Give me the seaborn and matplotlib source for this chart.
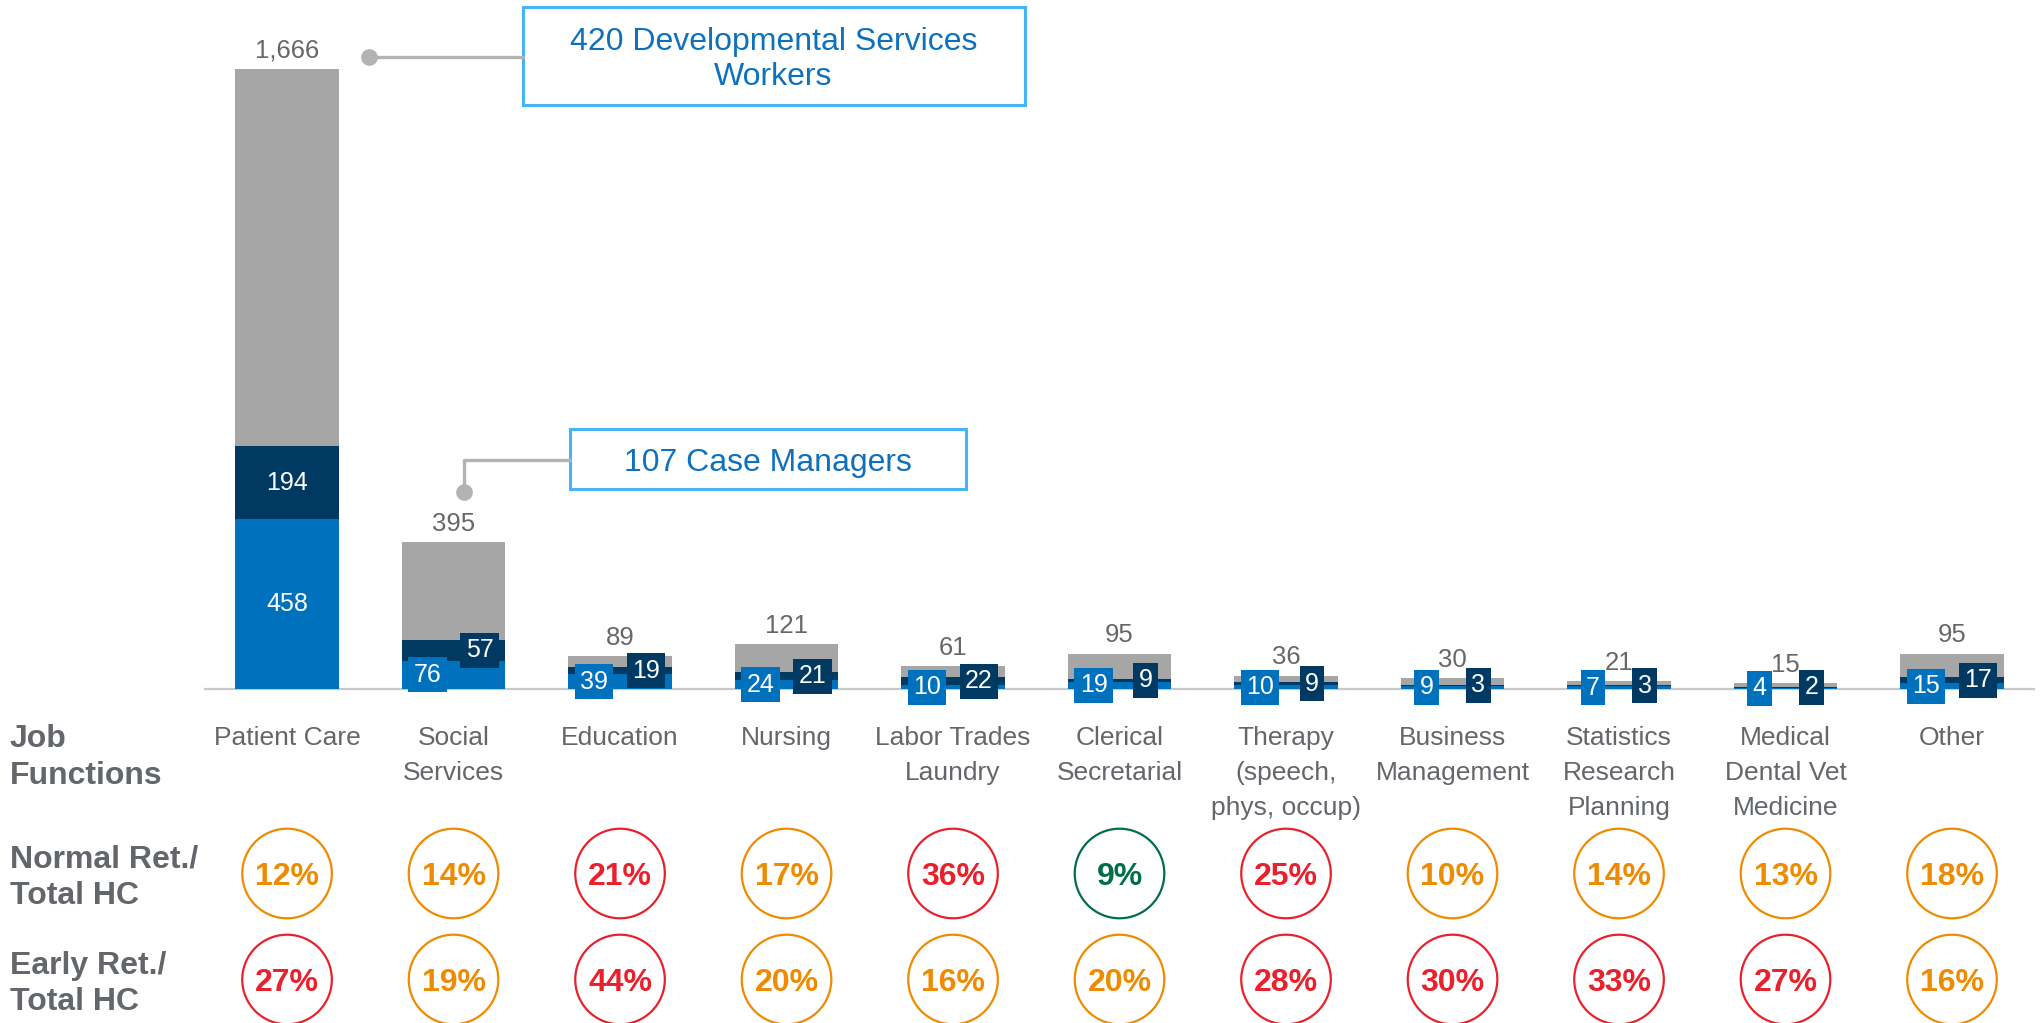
import numpy as np
import pandas as pd
import seaborn as sns
import matplotlib.pyplot as plt
from matplotlib.patches import Rectangle
from matplotlib.lines import Line2D

# Job functions (keys) and how they are printed under the bars
jobs = ["Patient Care", "Social Services", "Education", "Nursing",
        "Labor Trades Laundry", "Clerical Secretarial", "Therapy",
        "Business Management", "Statistics Research Planning",
        "Medical Dental Vet Medicine", "Other"]
job_labels = ["Patient Care", "Social\nServices", "Education", "Nursing",
              "Labor Trades\nLaundry", "Clerical\nSecretarial",
              "Therapy\n(speech,\nphys, occup)", "Business\nManagement",
              "Statistics\nResearch\nPlanning", "Medical\nDental Vet\nMedicine",
              "Other"]

# Headcounts
total_hc = [1666, 395, 89, 121, 61, 95, 36, 30, 21, 15, 95]
early_ret = [458, 76, 39, 24, 10, 19, 10, 9, 7, 4, 15]      # light blue
normal_ret = [194, 57, 19, 21, 22, 9, 9, 3, 3, 2, 17]       # navy

# Ratios shown in the circles (%)
normal_pct = [12, 14, 21, 17, 36, 9, 25, 10, 14, 13, 18]
early_pct = [27, 19, 44, 20, 16, 20, 28, 30, 33, 27, 16]

row_labels = ["Job\nFunctions", "Normal Ret./\nTotal HC", "Early Ret./\nTotal HC"]
callouts = ["420 Developmental Services\nWorkers", "107 Case Managers"]

GRAY = "#a6a6a6"
NAVY = "#003a63"
BLUE = "#0071bd"
TEXT = "#63666a"
VAL = "#676767"
ORANGE = "#ee8b00"
RED = "#e8212c"
GREEN = "#006e46"
BOX_EDGE = "#45b5f5"
BOX_TEXT = "#0e71bd"
LINE = "#b3b3b3"


def pct_color(v):
    if v < 10:
        return GREEN
    if v <= 20:
        return ORANGE
    return RED


sns.set_style("white")
plt.rcParams["font.family"] = ["Liberation Sans", "DejaVu Sans"]

df = pd.DataFrame({"job": jobs, "total": total_hc,
                   "early": early_ret, "normal": normal_ret})
df["early_normal"] = df["early"] + df["normal"]

W, H = 2042, 1023
fig = plt.figure(figsize=(W / 100, H / 100), dpi=100)
ax = fig.add_axes([0.0998, 0, 0.8969, 1])

bw = 0.624
for col, c in [("total", GRAY), ("early_normal", NAVY), ("early", BLUE)]:
    sns.barplot(data=df, x="job", y=col, order=jobs, color=c, width=bw,
                saturation=1, linewidth=0, errorbar=None, ax=ax)

ax.axhline(0, color="#c8c8c8", lw=1.6, zorder=0.5)

# segment labels in boxes
for i, row in df.iterrows():
    dx = 0 if row["early"] > 150 else 0.156
    ax.text(i - dx, row["early"] / 2, str(row["early"]), ha="center", va="center",
            color="white", fontsize=18, zorder=5,
            bbox=dict(boxstyle="square,pad=0.22", fc=BLUE, ec="none"))
    ax.text(i + dx, row["early"] + row["normal"] / 2, str(row["normal"]),
            ha="center", va="center", color="white", fontsize=18, zorder=6,
            bbox=dict(boxstyle="square,pad=0.22", fc=NAVY, ec="none"))
    ax.annotate(f"{row['total']:,}", (i, row["total"]), xytext=(0, 4.5),
                textcoords="offset points", ha="center", va="bottom",
                fontsize=18.5, color=VAL)

xt = ax.get_xaxis_transform()
x = np.arange(len(jobs))
for i, lab in enumerate(job_labels):
    ax.text(i, 1 - 726 / H, lab, transform=xt, ha="center", va="top",
            fontsize=19, color=TEXT, linespacing=1.58)

# ratio circles
for yy, vals in [(1 - 873.5 / H, normal_pct), (1 - 979.5 / H, early_pct)]:
    cols = [pct_color(v) for v in vals]
    ax.scatter(x, [yy] * len(x), transform=xt, s=4160, facecolors="none",
               edgecolors=cols, linewidths=1.6, clip_on=False, zorder=4)
    for xi, v, c in zip(x, vals, cols):
        ax.text(xi, yy, f"{v}%", transform=xt, ha="center", va="center_baseline",
                fontsize=23, fontweight="bold", color=c)

# row headers
fig.text(10 / W, 1 - 724 / H, row_labels[0], ha="left", va="top", fontsize=23,
         fontweight="bold", color=TEXT, linespacing=1.3)
fig.text(10 / W, 1 - 877.5 / H, row_labels[1], ha="left", va="center", fontsize=23,
         fontweight="bold", color=TEXT, linespacing=1.29)
fig.text(10 / W, 1 - 984 / H, row_labels[2], ha="left", va="center", fontsize=23,
         fontweight="bold", color=TEXT, linespacing=1.29)

# callout 1
tf = fig.transFigure
fig.add_artist(Line2D([369 / W, 523 / W], [1 - 57 / H, 1 - 57 / H], color=LINE,
                      lw=2.4, transform=tf))
fig.add_artist(Line2D([369 / W], [1 - 57 / H], marker="o", ms=11, color=LINE,
                      transform=tf))
fig.add_artist(Rectangle((523 / W, 1 - 105 / H), 502 / W, 98 / H, transform=tf,
                         fc="white", ec=BOX_EDGE, lw=2.2))
fig.text(773.5 / W, 1 - 59.5 / H, callouts[0], ha="center", va="center",
         fontsize=23, color=BOX_TEXT, linespacing=1.25)

# callout 2
fig.add_artist(Line2D([570 / W, 464 / W, 464 / W],
                      [1 - 459.5 / H, 1 - 459.5 / H, 1 - 492 / H], color=LINE,
                      lw=2.4, transform=tf))
fig.add_artist(Line2D([464 / W], [1 - 492 / H], marker="o", ms=11, color=LINE,
                      transform=tf))
fig.add_artist(Rectangle((570 / W, 1 - 489 / H), 396 / W, 60 / H, transform=tf,
                         fc="white", ec=BOX_EDGE, lw=2.2))
fig.text(768 / W, 1 - 459.7 / H, callouts[1], ha="center", va="center_baseline",
         fontsize=23, color=BOX_TEXT)

ax.set_xlim(-0.5, len(jobs) - 0.5)
ax.set_ylim((689 - H) / 0.372, 689 / 0.372)
ax.axis("off")

fig.savefig("out.png", dpi=100)
